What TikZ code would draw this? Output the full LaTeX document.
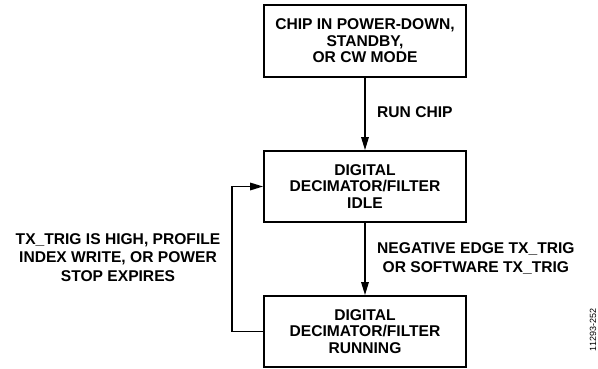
\documentclass[tikz,border=0pt]{standalone}
\usepackage{fontspec}
\setmainfont{Liberation Sans}
\usepackage{tikz}
\usetikzlibrary{arrows.meta}

\tikzset{
	statebox/.style={draw, line width=1.8pt, minimum width=202pt, minimum height=71pt, align=center, inner sep=0pt, font=\bfseries\fontsize{15.6}{16.5}\selectfont},
	lbl/.style={align=center, inner sep=0pt, font=\bfseries\fontsize{15.6}{18.2}\selectfont},
	flow/.style={line width=1.6pt, -{Triangle[length=13pt,width=7.5pt]}}
}

\begin{document}
\begin{tikzpicture}[x=1pt, y=-1pt]
	\useasboundingbox (0,0) rectangle (598,369);
	\node[statebox, minimum height=72pt] (down) at (365,41) {CHIP IN POWER-DOWN,\\STANDBY,\\OR CW MODE};
	\node[statebox] (idle) at (365,186.5) {DIGITAL\\DECIMATOR/FILTER\\IDLE};
	\node[statebox] (run) at (365,331.5) {DIGITAL\\DECIMATOR/FILTER\\RUNNING};
	\draw[flow] (down) -- (idle);
	\draw[flow] (idle) -- (run);
	\draw[flow] (run.west) -- ++(-31,0) |- (idle.west);
	\node[lbl, anchor=west] (runchip) at (377,112) {RUN CHIP};
	\node[lbl, anchor=west] (negedge) at (377,258.5) {NEGATIVE EDGE TX\_TRIG\\OR SOFTWARE TX\_TRIG};
	\node[lbl] (txhigh) at (118,257.5) {TX\_TRIG IS HIGH, PROFILE\\INDEX WRITE, OR POWER\\STOP EXPIRES};
	\node[rotate=90, inner sep=0pt, font=\fontsize{9}{10}\selectfont] (figid) at (593,330) {11293-252};
\end{tikzpicture}
\end{document}
